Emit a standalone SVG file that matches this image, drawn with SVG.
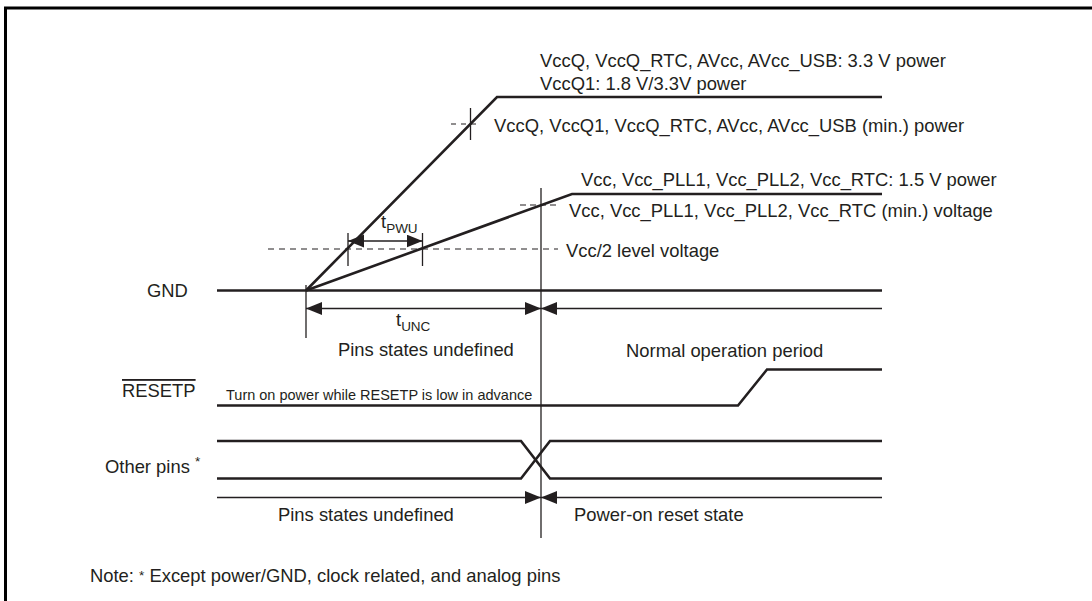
<svg xmlns="http://www.w3.org/2000/svg" width="1092" height="601" viewBox="0 0 1092 601">
<style>
text{font-family:"Liberation Sans",Arial,sans-serif;font-size:18.4px;fill:#231f20}
.sm{font-size:14.5px}
.sub{font-size:13.5px}
.sig{fill:none;stroke:#231f20;stroke-width:2.6;stroke-linejoin:miter}
.thin{fill:none;stroke:#231f20;stroke-width:1.3}
.dash{fill:none;stroke:#231f20;stroke-width:1.1;stroke-dasharray:5 5}
.frame{fill:none;stroke:#000;stroke-width:3}
</style>
<defs>
<marker id="ah" markerUnits="userSpaceOnUse" markerWidth="17" markerHeight="14" refX="16" refY="6.5" orient="auto-start-reverse" viewBox="0 0 17 14">
<path d="M0,0 L16,6.5 L0,13 z" fill="#231f20"/>
</marker>
</defs>
<path class="frame" d="M5.5,601 V8 H1092"/>

<g id="vccq">
<path class="sig" d="M306,290.5 L497,97 H882"/>
<text x="540" y="67">VccQ, VccQ_RTC, AVcc, AVcc_USB: 3.3 V power</text>
<text x="540" y="90">VccQ1: 1.8 V/3.3V power</text>
<path class="dash" d="M451,124 H480"/>
<path class="thin" d="M470.5,108 V140"/>
<text x="494" y="132">VccQ, VccQ1, VccQ_RTC, AVcc, AVcc_USB (min.) power</text>
</g>

<g id="vcc">
<path class="sig" d="M306,290.5 L572,194 H882"/>
<text x="581" y="186">Vcc, Vcc_PLL1, Vcc_PLL2, Vcc_RTC: 1.5 V power</text>
<path class="dash" d="M520,205 H558" style="stroke-dasharray:6 4"/>
<text x="569" y="217">Vcc, Vcc_PLL1, Vcc_PLL2, Vcc_RTC (min.) voltage</text>
</g>

<g id="vcc-half">
<path class="dash" d="M268,249 H558" style="stroke-dasharray:6 5"/>
<text x="566" y="257">Vcc/2 level voltage</text>
</g>

<g id="gnd">
<text x="147" y="297">GND</text>
<path class="sig" d="M217,290.5 H882"/>
</g>

<g id="resetp">
<text x="122" y="397" text-decoration="overline">RESETP</text>
<text class="sm" x="226" y="400">Turn on power while RESETP is low in advance</text>
<path class="sig" d="M217,405.5 H738 L767,369.5 H882"/>
<text x="626" y="357">Normal operation period</text>
</g>

<g id="other-pins">
<text x="105" y="473">Other pins <tspan class="sub" dy="-7">*</tspan></text>
<path class="sig" d="M217,441 H521 L550,478.5 H882"/>
<path class="sig" d="M217,478.5 H521 L550,441 H882"/>
</g>

<g id="labels">
<text x="381" y="228">t<tspan class="sub" dy="5">PWU</tspan></text>
<text x="396" y="326">t<tspan class="sub" dy="5">UNC</tspan></text>
<text x="338" y="356">Pins states undefined</text>
<text x="278" y="521">Pins states undefined</text>
<text x="574" y="521">Power-on reset state</text>
<text x="90" y="582">Note: <tspan class="sub" dy="-2">*</tspan><tspan dy="2">  Except power/GND, clock related, and analog pins</tspan></text>
</g>

<g id="connectors">
<path class="thin" d="M541,188 V538"/>
<path class="thin" d="M348,233 V266 M422.5,233 V266"/>
<path class="thin" d="M306,285 V338"/>
<line class="thin" x1="348" y1="241" x2="422.5" y2="241" marker-start="url(#ah)" marker-end="url(#ah)"/>
<line class="thin" x1="306" y1="308.5" x2="541" y2="308.5" marker-start="url(#ah)" marker-end="url(#ah)"/>
<line class="thin" x1="882" y1="308.5" x2="541" y2="308.5" marker-end="url(#ah)"/>
<line class="thin" x1="217" y1="497.5" x2="541" y2="497.5" marker-end="url(#ah)"/>
<line class="thin" x1="882" y1="497.5" x2="541" y2="497.5" marker-end="url(#ah)"/>
</g>
</svg>
